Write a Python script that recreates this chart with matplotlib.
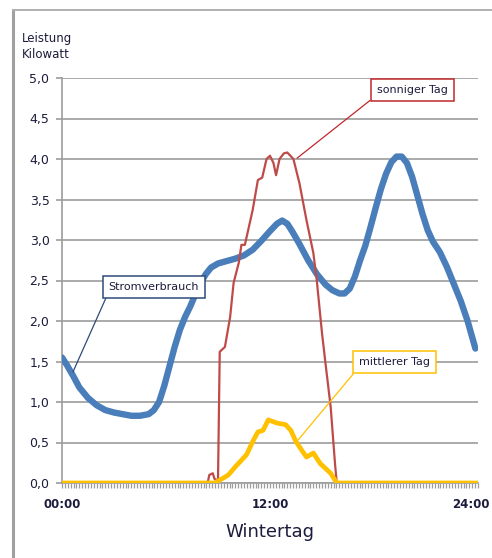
import matplotlib
matplotlib.use("Agg")
import matplotlib.pyplot as plt
from matplotlib.lines import Line2D
import matplotlib.transforms as mtransforms
import numpy as np

# Stromverbrauch (blue)
verbrauch_h = [0, 0.3, 0.65, 1.0, 1.5, 2.0, 2.5, 3.0, 3.5, 4.0, 4.5, 5.0, 5.3, 5.6,
               5.9, 6.2, 6.5, 6.8, 7.1, 7.4, 7.7, 8.0, 8.3, 8.6, 9.0, 9.5, 10.0,
               10.5, 11.0, 11.5, 12.0, 12.4, 12.7, 13.0, 13.3, 13.7, 14.2, 14.7,
               15.2, 15.6, 16.0, 16.3, 16.6, 16.9, 17.2, 17.5, 17.8, 18.1, 18.4,
               18.7, 19.0, 19.3, 19.6, 19.9, 20.2, 20.5, 20.8, 21.1, 21.4, 21.8,
               22.2, 22.6, 23.0, 23.4, 23.85]
verbrauch_kw = [1.55, 1.45, 1.32, 1.18, 1.05, 0.96, 0.9, 0.87, 0.85, 0.83, 0.83,
                0.85, 0.9, 1.0, 1.2, 1.44, 1.68, 1.89, 2.05, 2.18, 2.33, 2.47,
                2.58, 2.66, 2.71, 2.74, 2.77, 2.81, 2.88, 2.99, 3.11, 3.2, 3.24,
                3.2, 3.1, 2.95, 2.75, 2.58, 2.45, 2.38, 2.34, 2.34, 2.4, 2.55,
                2.75, 2.93, 3.16, 3.4, 3.63, 3.82, 3.96, 4.03, 4.03, 3.95, 3.78,
                3.55, 3.32, 3.12, 2.98, 2.85, 2.67, 2.46, 2.25, 2.0, 1.66]

# sonniger Tag (red)
sonnig_h = [0, 8.4, 8.5, 8.7, 8.8, 9.0, 9.1, 9.4, 9.7, 9.9, 10.2, 10.35, 10.55,
            11.0, 11.3, 11.55, 11.8, 12.0, 12.2, 12.35, 12.55, 12.8, 13.0, 13.35,
            13.7, 14.1, 14.5, 14.7, 15.0, 15.2, 15.5, 15.75, 15.85, 24]
sonnig_kw = [0, 0, 0.1, 0.12, 0.05, 0.03, 1.62, 1.68, 2.05, 2.47, 2.72, 2.94, 2.94,
             3.37, 3.74, 3.77, 4.0, 4.04, 3.95, 3.8, 4.0, 4.07, 4.08, 4.0,
             3.7, 3.25, 2.84, 2.5, 1.85, 1.48, 0.94, 0.24, 0, 0]

# mittlerer Tag (yellow)
mittel_h = [0, 8.8, 9.3, 9.6, 10.0, 10.65, 11.0, 11.3, 11.6, 11.9, 12.4, 12.9,
            13.2, 13.5, 14.1, 14.5, 14.9, 15.5, 15.85, 24]
mittel_kw = [0, 0, 0.06, 0.1, 0.2, 0.35, 0.51, 0.63, 0.65, 0.78, 0.74, 0.72,
             0.65, 0.51, 0.32, 0.37, 0.24, 0.12, 0, 0]

y_ticks = [0, 0.5, 1.0, 1.5, 2.0, 2.5, 3.0, 3.5, 4.0, 4.5, 5.0]
x_ticks = [0, 12, 24]
x_labels = ["00:00", "12:00", "24:00"]

txt = "#1c1c3c"
grid = "#9c9c9c"

fig = plt.figure(figsize=(4.92, 5.58), dpi=100)
ax = fig.add_axes([62/492, 75/558, 416/492, 405/558])

ax.plot(verbrauch_h, verbrauch_kw, color="#4a7ebb", lw=4.6, solid_joinstyle="round",
        solid_capstyle="round", zorder=3)
ax.plot(sonnig_h, sonnig_kw, color="#be4b48", lw=1.6, solid_joinstyle="round", zorder=4)
ax.plot(mittel_h, mittel_kw, color="#ffc000", lw=3.4, solid_joinstyle="round", zorder=5)

ax.set_xlim(0, 24)
ax.set_ylim(0, 5)
ax.set_yticks(y_ticks)
ax.set_yticklabels([f"{v:.1f}".replace(".", ",") for v in y_ticks])
ax.set_xticks(x_ticks)
ax.set_xticklabels(x_labels)
ax.set_xticks(np.arange(0, 24.01, 1/6), minor=True)
ax.tick_params(axis="y", length=4, width=1.2, color=grid, pad=5, labelsize=9, labelcolor=txt)
ax.tick_params(axis="x", which="both", length=3.5, width=0.9, color=grid, pad=7,
               labelsize=8.5, labelcolor=txt)
for t in ax.get_xticklabels():
    t.set_fontweight("bold")
# last label sits against the right edge, like in the original
last = ax.get_xticklabels()[-1]
last.set_transform(last.get_transform() +
                   mtransforms.ScaledTranslation(-7/100, 0, fig.dpi_scale_trans))

ax.grid(axis="y", color=grid, lw=1.2)
ax.set_axisbelow(True)
for s in ["top", "right"]:
    ax.spines[s].set_visible(False)
for s in ["left", "bottom"]:
    ax.spines[s].set_color(grid)
    ax.spines[s].set_linewidth(1.2)

ax.set_xlabel("Wintertag", fontsize=13, color=txt, labelpad=9)
fig.text(22/492, 1 - 61/558, "Leistung\nKilowatt", fontsize=8.5, color=txt,
         va="bottom", ha="left", linespacing=1.3)

# callouts
def callout(label, xy, xytext, edge):
    ax.annotate(label, xy=xy, xytext=xytext, fontsize=8, color=txt,
                ha="center", va="center", zorder=6,
                bbox=dict(boxstyle="square,pad=0.55", fc="white", ec=edge, lw=1.1),
                arrowprops=dict(arrowstyle="-", color=edge, lw=0.9, relpos=(0, 0),
                                shrinkA=0, shrinkB=0))

callout("Stromverbrauch", (0.63, 1.37), (5.3, 2.42), "#2e4a7a")
callout("sonniger Tag", (13.56, 4.01), (20.2, 4.85), "#c0282c")
callout("mittlerer Tag", (13.54, 0.51), (19.17, 1.49), "#ffc000")

# outer frame
fig.add_artist(Line2D([13/492, 13/492], [0, 1 - 10/558], color="#a0a0a0", lw=2.2))
fig.add_artist(Line2D([13/492, 1], [1 - 10/558, 1 - 10/558], color="#b0b0b0", lw=1.4))

fig.savefig("out.png", dpi=100)
